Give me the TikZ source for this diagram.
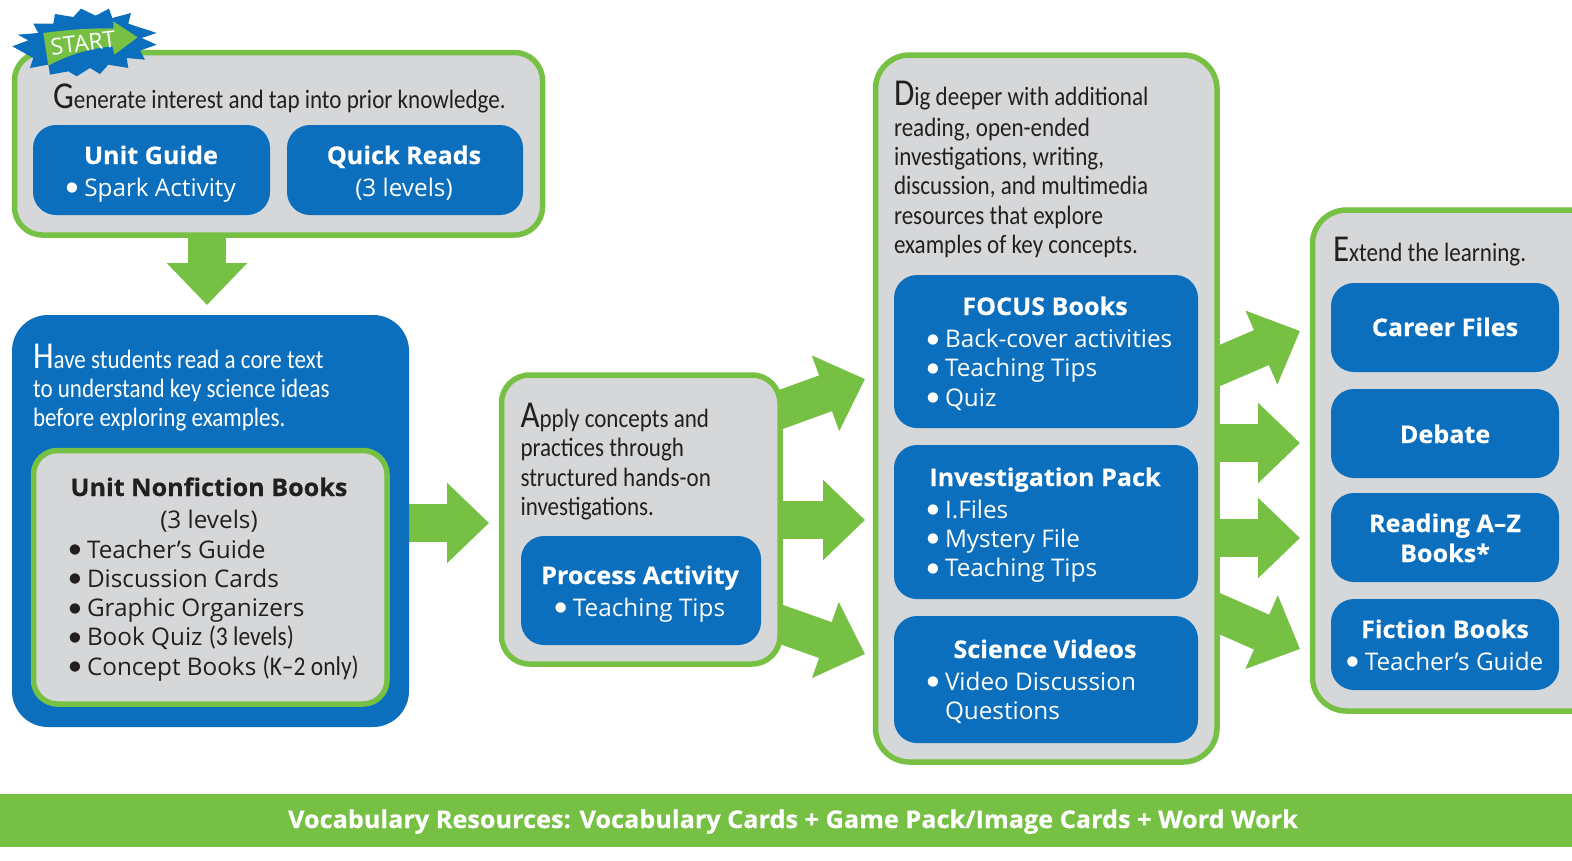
\documentclass[tikz,border=0pt]{standalone}
\usepackage{fontspec}
\usetikzlibrary{arrows.meta,backgrounds}
\setmainfont{Open Sans}[BoldFeatures={FakeBold=0.5,FakeStretch=1.035}]
\newfontfamily\condfont{Carlito}[FakeStretch=0.87]
\newfontfamily\dotfont{DejaVu Sans}
\definecolor{leaf}{HTML}{76C044}
\definecolor{sky}{HTML}{0B6FBD}
\definecolor{pale}{HTML}{D6D7D9}
\definecolor{ink}{HTML}{231F20}
\newcommand{\bodyfont}{\condfont\fontsize{26.5}{29.3}\selectfont}
\newcommand{\blockfont}{\fontsize{24.3}{29.3}\selectfont}
\newcommand{\dc}[1]{\smash{\fontsize{38}{38}\selectfont #1}}
\newcommand{\bu}{\raisebox{4.5pt}{\dotfont\fontsize{13.5}{0}\selectfont ●}}
\newcommand{\bl}{\makebox[18pt][l]{\bu}}
\newcommand{\noteface}{\condfont\fontsize{27}{29.3}\selectfont}
\newcommand{\rbox}[6]{%
  \pgfmathsetmacro{\rw}{#5-#3}\pgfmathsetmacro{\rh}{#6-#4}%
  \pgfmathsetmacro{\rcx}{(#5+#3)/2}\pgfmathsetmacro{\rcy}{(#6+#4)/2}%
  \node[#1,minimum width=\rw pt,minimum height=\rh pt] (#2) at (\rcx,\rcy) {};}
\tikzset{
  x=1pt,y=-1pt,
  panel/.style={draw=leaf,line width=5.5pt,fill=pale,rounded corners=28pt,inner sep=0pt,outer sep=0pt},
  blue box/.style={fill=sky,rounded corners=23pt,inner sep=0pt,outer sep=0pt},
  big blue/.style={fill=sky,rounded corners=36pt,inner sep=0pt,outer sep=0pt},
  block arrow/.style={draw=leaf,line width=38pt,-{Triangle[length=42pt,width=78pt,fill=leaf]}},
  para/.style={anchor=north west,inner sep=0pt,outer sep=0pt,align=left,text=ink,font=\bodyfont,yshift=20.5pt},
  head/.style={anchor=base,inner sep=0pt,text=white,font=\blockfont\bfseries},
  centerline/.style={anchor=base,inner sep=0pt,text=white,font=\blockfont},
  items/.style={anchor=north west,inner sep=0pt,outer sep=0pt,align=left,text=white,font=\blockfont,yshift=20.5pt},
}
\begin{document}
\begin{tikzpicture}
\useasboundingbox (0,0) rectangle (1572,860);
\clip (0,0) rectangle (1572,860);
% panels
\rbox{panel}{gen}{14.5}{52.5}{542.5}{235}
\rbox{big blue}{core}{12}{315}{409}{727}
\rbox{panel,rounded corners=24pt}{books}{33.5}{450.5}{387}{704}
\rbox{panel}{apply}{501.5}{375}{780}{664}
\rbox{panel,rounded corners=34pt}{dig}{875.5}{55}{1217}{762}
\rbox{panel,rounded corners=34pt}{extend}{1312.5}{210}{1640}{711}
% blue boxes
\rbox{blue box}{guide}{33}{125}{270}{215}
\rbox{blue box}{reads}{287}{125}{523}{215}
\rbox{blue box}{process}{521}{536}{761}{645}
\rbox{blue box}{focus}{894}{275}{1198}{428}
\rbox{blue box}{invest}{894}{445}{1198}{599}
\rbox{blue box}{videos}{894}{616}{1198}{743}
\rbox{blue box}{career}{1331}{283}{1559}{372}
\rbox{blue box}{debate}{1331}{389}{1559}{478}
\rbox{blue box}{razbooks}{1331}{493}{1559}{582}
\rbox{blue box}{fiction}{1331}{599}{1559}{690}
% bar
\rbox{fill=leaf,inner sep=0pt,outer sep=0pt}{bar}{0}{794}{1572}{847}
\node[anchor=base,text=white,inner sep=0pt,font=\fontsize{24.4}{29}\selectfont\bfseries] (bartext) at (793,828) {Vocabulary Resources: Vocabulary Cards + Game Pack/Image Cards + Word Work};
% arrow end points
\coordinate (t0) at (207,305);
\coordinate (t1) at (489,523);
\coordinate (s2) at (760,417); \coordinate (t2) at (865,379);
\coordinate (t3) at (865,520);
\coordinate (s4) at (760,617); \coordinate (t4) at (865,654);
\coordinate (s5) at (1200,374); \coordinate (t5) at (1300,331);
\coordinate (t6) at (1300,443);
\coordinate (t7) at (1300,538);
\coordinate (s8) at (1200,605); \coordinate (t8) at (1300,649);
\begin{scope}[on background layer]
\draw[block arrow] (gen.south -| t0) -- (t0);
\draw[block arrow] (core.east |- t1) -- (t1);
\draw[block arrow] (s2) -- (t2);
\draw[block arrow] (apply.east |- t3) -- (t3);
\draw[block arrow] (s4) -- (t4);
\draw[block arrow] (s5) -- (t5);
\draw[block arrow] (dig.east |- t6) -- (t6);
\draw[block arrow] (dig.east |- t7) -- (t7);
\draw[block arrow] (s8) -- (t8);
\end{scope}
% paragraph text
\node[para] (genText) at (53,108) {\strut\dc{G}enerate interest and tap into prior knowledge.};
\node[para,text=white] (coreText) at (33,368) {\strut\dc{H}ave students read a core text\\to understand key science ideas\\before exploring examples.};
\node[para] (applyText) at (520.5,427.5) {\strut\dc{A}pply concepts and\\practices through\\structured hands-on\\investigations.};
\node[para] (digText) at (894,105.5) {\strut\dc{D}ig deeper with additional\\[1.5pt]reading, open-ended\\investigations, writing,\\discussion, and multimedia\\resources that explore\\examples of key concepts.};
\node[para] (extText) at (1333,261) {\strut\dc{E}xtend the learning.};
% box text
\node[head] (h1) at (151,164) {Unit Guide};
\node[centerline] (l1) at (151,196) {\bu\ Spark Activity};
\node[head] (h2) at (404,164) {Quick Reads};
\node[centerline] (l2) at (404,196) {(3 levels)};
\node[head,text=ink] (h3) at (209,496) {Unit Nonfiction Books};
\node[centerline,text=ink] (l3) at (209,528) {(3 levels)};
\node[items,text=ink] (i3) at (69,558) {\strut\bl Teacher’s Guide\\\bl Discussion Cards\\\bl Graphic Organizers\\\bl Book Quiz {\noteface (3 levels)}\\\bl Concept Books {\noteface (K–2 only)}};
\node[head] (h4) at (640,584) {Process Activity};
\node[centerline] (l4) at (640,616) {\bu\ Teaching Tips};
\node[head] (h5) at (1045,315) {FOCUS Books};
\node[items] (i5) at (927,347.5) {\strut\bl Back-cover activities\\\bl Teaching Tips\\\bl Quiz};
\node[head] (h6) at (1045,486) {Investigation Pack};
\node[items] (i6) at (927,518) {\strut\bl I.Files\\\bl Mystery File\\\bl Teaching Tips};
\node[head] (h7) at (1045,658) {Science Videos};
\node[items] (i7) at (927,690) {\strut\bl Video Discussion\\\hspace*{18pt}Questions};
\node[head] (h8) at (1445,336) {Career Files};
\node[head] (h9) at (1445,443) {Debate};
\node[head] (h10) at (1445,532) {Reading A–Z};
\node[head] (h11) at (1445,562) {Books*};
\node[head] (h12) at (1445,638) {Fiction Books};
\node[centerline] (l12) at (1445,670) {\bu\ Teacher’s Guide};
% start burst
\begin{scope}[shift={(5,3)},x=0.3333pt,y=-0.3333pt]
\fill[sky] (22,130)--(70,112)--(38,95)--(100,90)--(85,62)--(145,62)--(150,33)--(205,42)--(228,17)--(272,38)--(312,17)--(322,45)--(378,30)--(370,62)--(455,90)--(410,105)--(455,125)--(405,143)--(420,170)--(365,165)--(370,195)--(310,185)--(285,213)--(255,195)--(215,220)--(190,205)--(135,215)--(130,185)--(75,195)--(85,165)--cycle;
\fill[leaf] (115,90) .. controls (190,80) and (260,75) .. (325,76)--(325,55)--(398,103)--(328,155)--(322,130) .. controls (260,135) and (190,155) .. (130,188)--cycle;
\end{scope}
\node[text=white,inner sep=0pt,rotate=7,font=\fontsize{23}{23}\selectfont] (starttext) at (83,43) {START};
\end{tikzpicture}
\end{document}
